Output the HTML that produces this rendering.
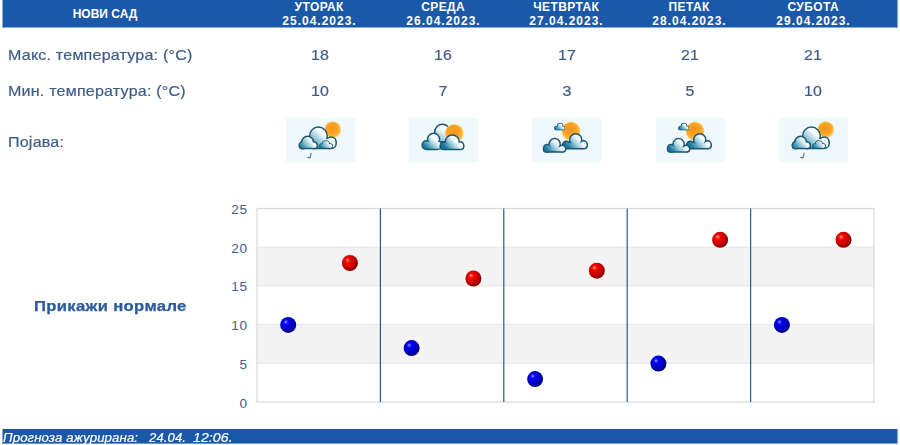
<!DOCTYPE html>
<html lang="sr">
<head>
<meta charset="utf-8">
<title>Прогноза - Нови Сад</title>
<style>
html,body{margin:0;padding:0;background:#fff;}
body{width:900px;height:445px;position:relative;overflow:hidden;font-family:"Liberation Sans",sans-serif;}
.abs{position:absolute;white-space:nowrap;}
#hdr{left:2px;top:0;width:894px;height:27px;background:#1a58a8;border:1px solid #8dacd4;border-top:0;}
#hdr .city{left:-1px;width:206px;top:7px;text-align:center;color:#fff;font-weight:bold;font-size:12px;line-height:14px;}
#hdr .day{width:124px;top:0;text-align:center;color:#fff;font-weight:bold;font-size:12px;line-height:14px;}
#hdr .day .n{letter-spacing:0.4px;display:block;margin-right:-0.4px;}
#hdr .day .d{letter-spacing:1px;display:block;margin-right:-1px;}
.lbl{left:8px;color:#3f5c88;font-size:14.5px;line-height:18px;letter-spacing:0.2px;transform:scaleX(1.105);transform-origin:0 50%;-webkit-text-stroke:0.2px #3f5c88;}
.val{width:124px;text-align:center;color:#3f5c88;font-size:14.5px;line-height:18px;letter-spacing:0.2px;transform:scaleX(1.1);transform-origin:50% 50%;-webkit-text-stroke:0.2px #3f5c88;}
.ico{top:118px;width:69.4px;height:44px;filter:blur(0.3px);}
#norm{left:34px;top:297px;color:#2a5b9e;font-weight:bold;font-size:14.5px;line-height:18px;letter-spacing:0.3px;transform:scaleX(1.146);transform-origin:0 50%;-webkit-text-stroke:0.25px #2a5b9e;}
#ftr{left:2px;top:429px;width:894px;height:14px;background:#1a58a8;border:1px solid #8dacd4;border-top:0;border-bottom-color:#769bcb;}
#ftr span{transform-origin:0 50%;-webkit-text-stroke:0.2px #fff;top:2px;color:#fff;font-style:italic;font-size:12px;line-height:15px;}
</style>
</head>
<body>
<div id="hdr" class="abs">
  <div class="abs city">НОВИ САД</div>
  <div class="abs day" style="left:254px"><span class="n">УТОРАК</span><span class="d">25.04.2023.</span></div>
  <div class="abs day" style="left:378px"><span class="n">СРЕДА</span><span class="d">26.04.2023.</span></div>
  <div class="abs day" style="left:501px"><span class="n">ЧЕТВРТАК</span><span class="d">27.04.2023.</span></div>
  <div class="abs day" style="left:624px"><span class="n">ПЕТАК</span><span class="d">28.04.2023.</span></div>
  <div class="abs day" style="left:748px"><span class="n">СУБОТА</span><span class="d">29.04.2023.</span></div>
</div>

<div class="abs lbl" style="top:46px">Макс. температура: (°C)</div>
<div class="abs val" style="left:258px;top:46px">18</div>
<div class="abs val" style="left:381px;top:46px">16</div>
<div class="abs val" style="left:505px;top:46px">17</div>
<div class="abs val" style="left:628px;top:46px">21</div>
<div class="abs val" style="left:751px;top:46px">21</div>

<div class="abs lbl" style="top:82px">Мин. температура: (°C)</div>
<div class="abs val" style="left:258px;top:82px">10</div>
<div class="abs val" style="left:381px;top:82px">7</div>
<div class="abs val" style="left:505px;top:82px">3</div>
<div class="abs val" style="left:628px;top:82px">5</div>
<div class="abs val" style="left:751px;top:82px">10</div>

<div class="abs lbl" style="top:133px">Појава:</div>

<!--ICONS-->
<svg width="0" height="0" style="position:absolute"><defs><radialGradient id="sg" cx="0.45" cy="0.4" r="0.6"><stop offset="0" stop-color="#f7931e"/><stop offset="0.6" stop-color="#f9a324"/><stop offset="1" stop-color="#fcc04a"/></radialGradient></defs></svg>
<svg class="abs ico" style="left:285.5px" viewBox="0 0 70 44"><defs><linearGradient id="i1a" gradientUnits="userSpaceOnUse" x1="42" y1="9" x2="22" y2="33"><stop offset="0" stop-color="#ffffff"/><stop offset="0.28" stop-color="#f4fafc"/><stop offset="0.58" stop-color="#86c1d4"/><stop offset="0.86" stop-color="#1f7fa0"/><stop offset="1" stop-color="#1a7494"/></linearGradient><linearGradient id="i1b" gradientUnits="userSpaceOnUse" x1="29" y1="19" x2="14" y2="32"><stop offset="0" stop-color="#ffffff"/><stop offset="0.28" stop-color="#f4fafc"/><stop offset="0.58" stop-color="#86c1d4"/><stop offset="0.86" stop-color="#1f7fa0"/><stop offset="1" stop-color="#1a7494"/></linearGradient><linearGradient id="i1c" gradientUnits="userSpaceOnUse" x1="47" y1="23" x2="35" y2="32"><stop offset="0" stop-color="#ffffff"/><stop offset="0.28" stop-color="#f4fafc"/><stop offset="0.58" stop-color="#86c1d4"/><stop offset="0.86" stop-color="#1f7fa0"/><stop offset="1" stop-color="#1a7494"/></linearGradient></defs><rect x="0" y="0" width="70" height="44" fill="#eff8fb"/><polygon points="55.90,11.60 54.72,12.70 55.54,14.08 54.10,14.80 54.50,16.36 52.92,16.64 52.86,18.25 51.26,18.08 50.76,19.60 49.27,18.99 48.35,20.31 47.10,19.30 45.85,20.31 44.93,18.99 43.44,19.60 42.94,18.08 41.34,18.25 41.28,16.64 39.70,16.36 40.10,14.80 38.66,14.08 39.48,12.70 38.30,11.60 39.48,10.50 38.66,9.12 40.10,8.40 39.70,6.84 41.28,6.56 41.34,4.95 42.94,5.12 43.44,3.60 44.93,4.21 45.85,2.89 47.10,3.90 48.35,2.89 49.27,4.21 50.76,3.60 51.26,5.12 52.86,4.95 52.92,6.56 54.50,6.84 54.10,8.40 55.54,9.12 54.72,10.50" fill="#fcc95e"/><circle cx="47.1" cy="11.6" r="7.6000000000000005" fill="url(#sg)"/><g fill="#1c566f" stroke="#1c566f" stroke-width="3.0" stroke-linejoin="round"><circle cx="32.7" cy="17.9" r="8.2"/><circle cx="45.6" cy="23.8" r="4.1"/><rect x="24" y="21" width="25.8" height="8.8" rx="4"/></g><g fill="url(#i1a)"><circle cx="32.7" cy="17.9" r="8.2"/><circle cx="45.6" cy="23.8" r="4.1"/><rect x="24" y="21" width="25.8" height="8.8" rx="4"/></g><g fill="#1c566f" stroke="#1c566f" stroke-width="1.5" stroke-linejoin="round"><circle cx="40.2" cy="26.2" r="3.3"/><circle cx="36.2" cy="28" r="1.9"/><circle cx="44.6" cy="28" r="1.9"/><rect x="34.3" y="26.6" width="12.2" height="3.3" rx="1.6"/></g><g fill="url(#i1c)"><circle cx="40.2" cy="26.2" r="3.3"/><circle cx="36.2" cy="28" r="1.9"/><circle cx="44.6" cy="28" r="1.9"/><rect x="34.3" y="26.6" width="12.2" height="3.3" rx="1.6"/></g><g fill="#1c566f" stroke="#1c566f" stroke-width="3.0" stroke-linejoin="round"><circle cx="21.8" cy="24.2" r="5.2"/><circle cx="17.1" cy="27.2" r="2.9"/><rect x="14.3" y="25.6" width="16.6" height="4.3" rx="2.1"/><circle cx="27.8" cy="27.2" r="2.7"/></g><g fill="url(#i1b)"><circle cx="21.8" cy="24.2" r="5.2"/><circle cx="17.1" cy="27.2" r="2.9"/><rect x="14.3" y="25.6" width="16.6" height="4.3" rx="2.1"/><circle cx="27.8" cy="27.2" r="2.7"/></g><path d="M25.3 35.4 L24.3 40 L21.9 39.5" fill="none" stroke="#6c757c" stroke-width="1.2" stroke-linecap="round" stroke-linejoin="round"/></svg>
<svg class="abs ico" style="left:408.9px" viewBox="0 0 70 44"><defs><linearGradient id="i2a" gradientUnits="userSpaceOnUse" x1="40" y1="4" x2="20" y2="34"><stop offset="0" stop-color="#ffffff"/><stop offset="0.28" stop-color="#f4fafc"/><stop offset="0.58" stop-color="#86c1d4"/><stop offset="0.86" stop-color="#1f7fa0"/><stop offset="1" stop-color="#1a7494"/></linearGradient><linearGradient id="i2b" gradientUnits="userSpaceOnUse" x1="29" y1="17" x2="15" y2="31"><stop offset="0" stop-color="#ffffff"/><stop offset="0.28" stop-color="#f4fafc"/><stop offset="0.58" stop-color="#86c1d4"/><stop offset="0.86" stop-color="#1f7fa0"/><stop offset="1" stop-color="#1a7494"/></linearGradient><linearGradient id="i2c" gradientUnits="userSpaceOnUse" x1="50" y1="19" x2="36" y2="32"><stop offset="0" stop-color="#ffffff"/><stop offset="0.28" stop-color="#f4fafc"/><stop offset="0.58" stop-color="#86c1d4"/><stop offset="0.86" stop-color="#1f7fa0"/><stop offset="1" stop-color="#1a7494"/></linearGradient></defs><rect x="0" y="0" width="70" height="44" fill="#eff8fb"/><g fill="#1c566f" stroke="#1c566f" stroke-width="3.0" stroke-linejoin="round"><circle cx="33.7" cy="13.9" r="7.0"/><rect x="27" y="13" width="16" height="10" rx="3"/></g><g fill="url(#i2a)"><circle cx="33.7" cy="13.9" r="7.0"/><rect x="27" y="13" width="16" height="10" rx="3"/></g><polygon points="55.40,15.20 54.21,16.44 55.00,17.96 53.51,18.81 53.84,20.50 52.18,20.90 52.02,22.61 50.30,22.52 49.67,24.11 48.05,23.55 46.99,24.90 45.60,23.90 44.21,24.90 43.15,23.55 41.53,24.11 40.90,22.52 39.18,22.61 39.02,20.90 37.36,20.50 37.69,18.81 36.20,17.96 36.99,16.44 35.80,15.20 36.99,13.96 36.20,12.44 37.69,11.59 37.36,9.90 39.02,9.50 39.18,7.79 40.90,7.88 41.53,6.29 43.15,6.85 44.21,5.50 45.60,6.50 46.99,5.50 48.05,6.85 49.67,6.29 50.30,7.88 52.02,7.79 52.18,9.50 53.84,9.90 53.51,11.59 55.00,12.44 54.21,13.96" fill="#fcc95e"/><circle cx="45.6" cy="15.2" r="8.600000000000001" fill="url(#sg)"/><g fill="#1c566f" stroke="#1c566f" stroke-width="3.0" stroke-linejoin="round"><circle cx="24.8" cy="21.3" r="5.3"/><circle cx="17.4" cy="26.8" r="3.3"/><rect x="14.2" y="24.6" width="17.6" height="6.2" rx="3.1"/><circle cx="29.6" cy="26.8" r="2.8"/></g><g fill="url(#i2b)"><circle cx="24.8" cy="21.3" r="5.3"/><circle cx="17.4" cy="26.8" r="3.3"/><rect x="14.2" y="24.6" width="17.6" height="6.2" rx="3.1"/><circle cx="29.6" cy="26.8" r="2.8"/></g><g fill="#1c566f" stroke="#1c566f" stroke-width="3.0" stroke-linejoin="round"><circle cx="43.6" cy="23.9" r="6.3"/><circle cx="35.3" cy="27.7" r="3.0"/><circle cx="51.4" cy="27.5" r="3.0"/><rect x="32.4" y="26.2" width="22" height="4.6" rx="2.3"/></g><g fill="url(#i2c)"><circle cx="43.6" cy="23.9" r="6.3"/><circle cx="35.3" cy="27.7" r="3.0"/><circle cx="51.4" cy="27.5" r="3.0"/><rect x="32.4" y="26.2" width="22" height="4.6" rx="2.3"/></g></svg>
<svg class="abs ico" style="left:532.3px" viewBox="0 0 70 44"><defs><linearGradient id="i3a" gradientUnits="userSpaceOnUse" x1="32" y1="5" x2="24" y2="12.5"><stop offset="0" stop-color="#ffffff"/><stop offset="0.28" stop-color="#f4fafc"/><stop offset="0.58" stop-color="#86c1d4"/><stop offset="0.86" stop-color="#1f7fa0"/><stop offset="1" stop-color="#1a7494"/></linearGradient><linearGradient id="i3b" gradientUnits="userSpaceOnUse" x1="28" y1="21" x2="14" y2="34"><stop offset="0" stop-color="#ffffff"/><stop offset="0.28" stop-color="#f4fafc"/><stop offset="0.58" stop-color="#86c1d4"/><stop offset="0.86" stop-color="#1f7fa0"/><stop offset="1" stop-color="#1a7494"/></linearGradient><linearGradient id="i3c" gradientUnits="userSpaceOnUse" x1="51" y1="17" x2="35" y2="31"><stop offset="0" stop-color="#ffffff"/><stop offset="0.28" stop-color="#f4fafc"/><stop offset="0.58" stop-color="#86c1d4"/><stop offset="0.86" stop-color="#1f7fa0"/><stop offset="1" stop-color="#1a7494"/></linearGradient></defs><rect x="0" y="0" width="70" height="44" fill="#eff8fb"/><polygon points="49.10,13.00 47.91,14.25 48.70,15.79 47.20,16.66 47.53,18.35 45.85,18.76 45.68,20.48 43.96,20.40 43.31,22.01 41.68,21.44 40.61,22.80 39.20,21.80 37.79,22.80 36.72,21.44 35.09,22.01 34.44,20.40 32.72,20.48 32.55,18.76 30.87,18.35 31.20,16.66 29.70,15.79 30.49,14.25 29.30,13.00 30.49,11.75 29.70,10.21 31.20,9.34 30.87,7.65 32.55,7.24 32.72,5.52 34.44,5.60 35.09,3.99 36.72,4.56 37.79,3.20 39.20,4.20 40.61,3.20 41.68,4.56 43.31,3.99 43.96,5.60 45.68,5.52 45.85,7.24 47.53,7.65 47.20,9.34 48.70,10.21 47.91,11.75" fill="#fcc95e"/><circle cx="39.2" cy="13" r="8.700000000000001" fill="url(#sg)"/><g fill="#1c566f" stroke="#1c566f" stroke-width="1.4" stroke-linejoin="round"><circle cx="28.3" cy="7.9" r="2.5"/><circle cx="24.6" cy="9.9" r="1.5"/><circle cx="31.2" cy="9.9" r="1.5"/><rect x="23.1" y="9.2" width="9.6" height="2.3" rx="1.1"/></g><g fill="url(#i3a)"><circle cx="28.3" cy="7.9" r="2.5"/><circle cx="24.6" cy="9.9" r="1.5"/><circle cx="31.2" cy="9.9" r="1.5"/><rect x="23.1" y="9.2" width="9.6" height="2.3" rx="1.1"/></g><g fill="#1c566f" stroke="#1c566f" stroke-width="3.0" stroke-linejoin="round"><circle cx="44.1" cy="21.8" r="5.4"/><circle cx="34.6" cy="27" r="2.9"/><circle cx="52.0" cy="26.5" r="2.9"/><rect x="31.9" y="25.2" width="23" height="4.8" rx="2.4"/></g><g fill="url(#i3c)"><circle cx="44.1" cy="21.8" r="5.4"/><circle cx="34.6" cy="27" r="2.9"/><circle cx="52.0" cy="26.5" r="2.9"/><rect x="31.9" y="25.2" width="23" height="4.8" rx="2.4"/></g><g fill="#1c566f" stroke="#1c566f" stroke-width="3.0" stroke-linejoin="round"><circle cx="22.8" cy="26.2" r="4.9"/><circle cx="15.4" cy="30.3" r="3.0"/><circle cx="30.4" cy="30.6" r="2.6"/><rect x="12.4" y="29.2" width="20.6" height="4.2" rx="2.1"/></g><g fill="url(#i3b)"><circle cx="22.8" cy="26.2" r="4.9"/><circle cx="15.4" cy="30.3" r="3.0"/><circle cx="30.4" cy="30.6" r="2.6"/><rect x="12.4" y="29.2" width="20.6" height="4.2" rx="2.1"/></g></svg>
<svg class="abs ico" style="left:655.7px" viewBox="0 0 70 44"><defs><linearGradient id="i4a" gradientUnits="userSpaceOnUse" x1="32" y1="5" x2="24" y2="12.5"><stop offset="0" stop-color="#ffffff"/><stop offset="0.28" stop-color="#f4fafc"/><stop offset="0.58" stop-color="#86c1d4"/><stop offset="0.86" stop-color="#1f7fa0"/><stop offset="1" stop-color="#1a7494"/></linearGradient><linearGradient id="i4b" gradientUnits="userSpaceOnUse" x1="28" y1="21" x2="14" y2="34"><stop offset="0" stop-color="#ffffff"/><stop offset="0.28" stop-color="#f4fafc"/><stop offset="0.58" stop-color="#86c1d4"/><stop offset="0.86" stop-color="#1f7fa0"/><stop offset="1" stop-color="#1a7494"/></linearGradient><linearGradient id="i4c" gradientUnits="userSpaceOnUse" x1="51" y1="17" x2="35" y2="31"><stop offset="0" stop-color="#ffffff"/><stop offset="0.28" stop-color="#f4fafc"/><stop offset="0.58" stop-color="#86c1d4"/><stop offset="0.86" stop-color="#1f7fa0"/><stop offset="1" stop-color="#1a7494"/></linearGradient></defs><rect x="0" y="0" width="70" height="44" fill="#eff8fb"/><polygon points="49.10,13.00 47.91,14.25 48.70,15.79 47.20,16.66 47.53,18.35 45.85,18.76 45.68,20.48 43.96,20.40 43.31,22.01 41.68,21.44 40.61,22.80 39.20,21.80 37.79,22.80 36.72,21.44 35.09,22.01 34.44,20.40 32.72,20.48 32.55,18.76 30.87,18.35 31.20,16.66 29.70,15.79 30.49,14.25 29.30,13.00 30.49,11.75 29.70,10.21 31.20,9.34 30.87,7.65 32.55,7.24 32.72,5.52 34.44,5.60 35.09,3.99 36.72,4.56 37.79,3.20 39.20,4.20 40.61,3.20 41.68,4.56 43.31,3.99 43.96,5.60 45.68,5.52 45.85,7.24 47.53,7.65 47.20,9.34 48.70,10.21 47.91,11.75" fill="#fcc95e"/><circle cx="39.2" cy="13" r="8.700000000000001" fill="url(#sg)"/><g fill="#1c566f" stroke="#1c566f" stroke-width="1.4" stroke-linejoin="round"><circle cx="28.3" cy="7.9" r="2.5"/><circle cx="24.6" cy="9.9" r="1.5"/><circle cx="31.2" cy="9.9" r="1.5"/><rect x="23.1" y="9.2" width="9.6" height="2.3" rx="1.1"/></g><g fill="url(#i4a)"><circle cx="28.3" cy="7.9" r="2.5"/><circle cx="24.6" cy="9.9" r="1.5"/><circle cx="31.2" cy="9.9" r="1.5"/><rect x="23.1" y="9.2" width="9.6" height="2.3" rx="1.1"/></g><g fill="#1c566f" stroke="#1c566f" stroke-width="3.0" stroke-linejoin="round"><circle cx="44.1" cy="21.8" r="5.4"/><circle cx="34.6" cy="27" r="2.9"/><circle cx="52.0" cy="26.5" r="2.9"/><rect x="31.9" y="25.2" width="23" height="4.8" rx="2.4"/></g><g fill="url(#i4c)"><circle cx="44.1" cy="21.8" r="5.4"/><circle cx="34.6" cy="27" r="2.9"/><circle cx="52.0" cy="26.5" r="2.9"/><rect x="31.9" y="25.2" width="23" height="4.8" rx="2.4"/></g><g fill="#1c566f" stroke="#1c566f" stroke-width="3.0" stroke-linejoin="round"><circle cx="22.8" cy="26.2" r="4.9"/><circle cx="15.4" cy="30.3" r="3.0"/><circle cx="30.4" cy="30.6" r="2.6"/><rect x="12.4" y="29.2" width="20.6" height="4.2" rx="2.1"/></g><g fill="url(#i4b)"><circle cx="22.8" cy="26.2" r="4.9"/><circle cx="15.4" cy="30.3" r="3.0"/><circle cx="30.4" cy="30.6" r="2.6"/><rect x="12.4" y="29.2" width="20.6" height="4.2" rx="2.1"/></g></svg>
<svg class="abs ico" style="left:779.1px" viewBox="0 0 70 44"><defs><linearGradient id="i5a" gradientUnits="userSpaceOnUse" x1="42" y1="9" x2="22" y2="33"><stop offset="0" stop-color="#ffffff"/><stop offset="0.28" stop-color="#f4fafc"/><stop offset="0.58" stop-color="#86c1d4"/><stop offset="0.86" stop-color="#1f7fa0"/><stop offset="1" stop-color="#1a7494"/></linearGradient><linearGradient id="i5b" gradientUnits="userSpaceOnUse" x1="29" y1="19" x2="14" y2="32"><stop offset="0" stop-color="#ffffff"/><stop offset="0.28" stop-color="#f4fafc"/><stop offset="0.58" stop-color="#86c1d4"/><stop offset="0.86" stop-color="#1f7fa0"/><stop offset="1" stop-color="#1a7494"/></linearGradient><linearGradient id="i5c" gradientUnits="userSpaceOnUse" x1="47" y1="23" x2="35" y2="32"><stop offset="0" stop-color="#ffffff"/><stop offset="0.28" stop-color="#f4fafc"/><stop offset="0.58" stop-color="#86c1d4"/><stop offset="0.86" stop-color="#1f7fa0"/><stop offset="1" stop-color="#1a7494"/></linearGradient></defs><rect x="0" y="0" width="70" height="44" fill="#eff8fb"/><polygon points="55.90,11.60 54.72,12.70 55.54,14.08 54.10,14.80 54.50,16.36 52.92,16.64 52.86,18.25 51.26,18.08 50.76,19.60 49.27,18.99 48.35,20.31 47.10,19.30 45.85,20.31 44.93,18.99 43.44,19.60 42.94,18.08 41.34,18.25 41.28,16.64 39.70,16.36 40.10,14.80 38.66,14.08 39.48,12.70 38.30,11.60 39.48,10.50 38.66,9.12 40.10,8.40 39.70,6.84 41.28,6.56 41.34,4.95 42.94,5.12 43.44,3.60 44.93,4.21 45.85,2.89 47.10,3.90 48.35,2.89 49.27,4.21 50.76,3.60 51.26,5.12 52.86,4.95 52.92,6.56 54.50,6.84 54.10,8.40 55.54,9.12 54.72,10.50" fill="#fcc95e"/><circle cx="47.1" cy="11.6" r="7.6000000000000005" fill="url(#sg)"/><g fill="#1c566f" stroke="#1c566f" stroke-width="3.0" stroke-linejoin="round"><circle cx="32.7" cy="17.9" r="8.2"/><circle cx="45.6" cy="23.8" r="4.1"/><rect x="24" y="21" width="25.8" height="8.8" rx="4"/></g><g fill="url(#i5a)"><circle cx="32.7" cy="17.9" r="8.2"/><circle cx="45.6" cy="23.8" r="4.1"/><rect x="24" y="21" width="25.8" height="8.8" rx="4"/></g><g fill="#1c566f" stroke="#1c566f" stroke-width="1.5" stroke-linejoin="round"><circle cx="40.2" cy="26.2" r="3.3"/><circle cx="36.2" cy="28" r="1.9"/><circle cx="44.6" cy="28" r="1.9"/><rect x="34.3" y="26.6" width="12.2" height="3.3" rx="1.6"/></g><g fill="url(#i5c)"><circle cx="40.2" cy="26.2" r="3.3"/><circle cx="36.2" cy="28" r="1.9"/><circle cx="44.6" cy="28" r="1.9"/><rect x="34.3" y="26.6" width="12.2" height="3.3" rx="1.6"/></g><g fill="#1c566f" stroke="#1c566f" stroke-width="3.0" stroke-linejoin="round"><circle cx="21.8" cy="24.2" r="5.2"/><circle cx="17.1" cy="27.2" r="2.9"/><rect x="14.3" y="25.6" width="16.6" height="4.3" rx="2.1"/><circle cx="27.8" cy="27.2" r="2.7"/></g><g fill="url(#i5b)"><circle cx="21.8" cy="24.2" r="5.2"/><circle cx="17.1" cy="27.2" r="2.9"/><rect x="14.3" y="25.6" width="16.6" height="4.3" rx="2.1"/><circle cx="27.8" cy="27.2" r="2.7"/></g><path d="M25.3 35.4 L24.3 40 L21.9 39.5" fill="none" stroke="#6c757c" stroke-width="1.2" stroke-linecap="round" stroke-linejoin="round"/></svg>
<!--/ICONS-->

<div id="norm" class="abs">Прикажи нормале</div>

<!--CHART-->
<svg id="chart" class="abs" style="left:0;top:195px" width="900" height="225" viewBox="0 195 900 225">
<defs>
<radialGradient id="gr" cx="0.42" cy="0.42" r="0.6" fx="0.34" fy="0.30"><stop offset="0" stop-color="#ffc4b8"/><stop offset="0.12" stop-color="#ff4a3a"/><stop offset="0.3" stop-color="#f00000"/><stop offset="0.6" stop-color="#d00000"/><stop offset="0.85" stop-color="#a00000"/><stop offset="1" stop-color="#780000"/></radialGradient>
<radialGradient id="gb" cx="0.42" cy="0.42" r="0.6" fx="0.34" fy="0.30"><stop offset="0" stop-color="#b8b8ff"/><stop offset="0.12" stop-color="#3a3aff"/><stop offset="0.3" stop-color="#0000f0"/><stop offset="0.6" stop-color="#0000c8"/><stop offset="0.85" stop-color="#000098"/><stop offset="1" stop-color="#000070"/></radialGradient>
</defs>
<rect x="257" y="247.2" width="617.0" height="38.7" fill="#f3f3f3"/>
<rect x="257" y="324.6" width="617.0" height="38.7" fill="#f3f3f3"/>
<line x1="257" x2="874.0" y1="247.2" y2="247.2" stroke="#e6e6e6" stroke-width="1"/>
<line x1="257" x2="874.0" y1="285.9" y2="285.9" stroke="#e6e6e6" stroke-width="1"/>
<line x1="257" x2="874.0" y1="324.6" y2="324.6" stroke="#e6e6e6" stroke-width="1"/>
<line x1="257" x2="874.0" y1="363.3" y2="363.3" stroke="#e6e6e6" stroke-width="1"/>
<rect x="257" y="208.5" width="617.0" height="193.5" fill="none" stroke="#d9d9d9" stroke-width="1.2"/>
<line x1="380.4" x2="380.4" y1="208.5" y2="402.0" stroke="#2b5a8e" stroke-width="1.2"/>
<line x1="503.8" x2="503.8" y1="208.5" y2="402.0" stroke="#2b5a8e" stroke-width="1.2"/>
<line x1="627.2" x2="627.2" y1="208.5" y2="402.0" stroke="#2b5a8e" stroke-width="1.2"/>
<line x1="750.6" x2="750.6" y1="208.5" y2="402.0" stroke="#2b5a8e" stroke-width="1.2"/>
<g font-family="Liberation Sans, sans-serif" font-size="13.6" fill="#43608b" text-anchor="end" letter-spacing="0.8">
<text x="247.9" y="214.0">25</text>
<text x="247.9" y="252.7">20</text>
<text x="247.9" y="291.4">15</text>
<text x="247.9" y="330.1">10</text>
<text x="247.9" y="368.8">5</text>
<text x="247.9" y="407.5">0</text>
</g>
<circle cx="288.2" cy="324.9" r="8" fill="url(#gb)"/>
<circle cx="349.9" cy="263.0" r="8" fill="url(#gr)"/>
<circle cx="411.6" cy="348.1" r="8" fill="url(#gb)"/>
<circle cx="473.4" cy="278.5" r="8" fill="url(#gr)"/>
<circle cx="535.1" cy="379.1" r="8" fill="url(#gb)"/>
<circle cx="596.8" cy="270.7" r="8" fill="url(#gr)"/>
<circle cx="658.4" cy="363.6" r="8" fill="url(#gb)"/>
<circle cx="720.1" cy="239.8" r="8" fill="url(#gr)"/>
<circle cx="781.9" cy="324.9" r="8" fill="url(#gb)"/>
<circle cx="843.5" cy="239.8" r="8" fill="url(#gr)"/>
</svg>
<!--/CHART-->

<div id="ftr" class="abs"><span class="abs" style="left:0px;letter-spacing:0.1px;transform:scaleX(1.10)">Прогноза ажурирана:</span><span class="abs" style="left:146.4px;letter-spacing:0.1px;transform:scaleX(1.09)">24.04.</span><span class="abs" style="left:189.6px;letter-spacing:0.1px;transform:scaleX(1.17)">12:06.</span></div>
</body>
</html>
